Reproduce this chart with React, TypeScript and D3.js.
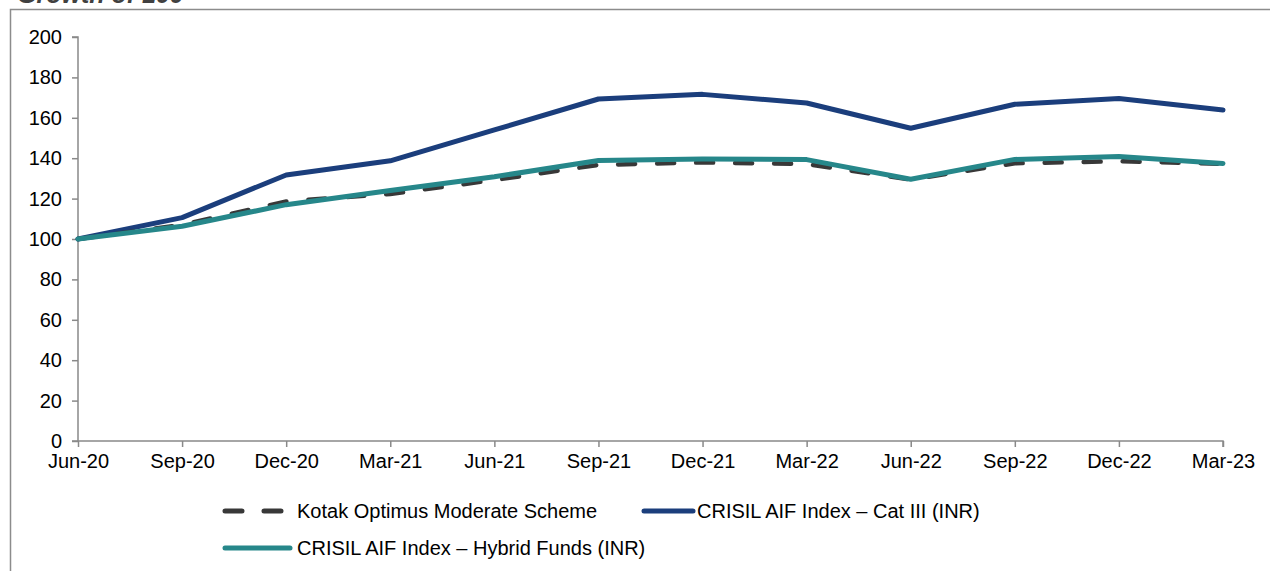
import React, { useEffect, useRef } from 'react';
import * as d3 from 'd3';

const categories = ['Jun-20', 'Sep-20', 'Dec-20', 'Mar-21', 'Jun-21', 'Sep-21', 'Dec-21', 'Mar-22', 'Jun-22', 'Sep-22', 'Dec-22', 'Mar-23'];
const kotakValues = [100, 107, 118.6, 122.3, 129.2, 136.7, 137.9, 137.1, 129.4, 137.5, 138.5, 137.2];
const catIIIValues = [100, 110.6, 131.7, 138.7, 154, 169.3, 171.6, 167.3, 154.8, 166.7, 169.5, 163.9];
const hybridValues = [100, 106.3, 117, 124, 130.8, 138.9, 139.6, 139.3, 129.6, 139.4, 140.8, 137.4];
const yTicks = [0, 20, 40, 60, 80, 100, 120, 140, 160, 180, 200];

const FONT = '"Liberation Sans", Arial, sans-serif';

export default function App() {
  const svgRef = useRef<SVGSVGElement>(null);

  useEffect(() => {
    if (!svgRef.current) return;
    const svg = d3.select(svgRef.current);
    svg.selectAll('*').remove();

    const W = 1270;
    const H = 571;
    const left = 78;
    const right = 1223;
    const top = 37;
    const bottom = 441;
    const axisColor = '#898989';

    // frame + title (cut off by the top edge, as in the source)
    svg.append('path')
      .attr('d', `M10.5,${H} V9.5 H${W}`)
      .attr('fill', 'none')
      .attr('stroke', '#8c8c8c')
      .attr('stroke-width', 1.5);

    svg.append('text')
      .attr('x', 17)
      .attr('y', 3)
      .style('font-family', FONT)
      .style('font-size', '25px')
      .style('font-weight', 'bold')
      .style('font-style', 'italic')
      .style('fill', '#404040')
      .text('Growth of 100');

    const x = d3.scalePoint().domain(categories).range([left, right]);
    const y = d3.scaleLinear().domain([0, 200]).range([bottom, top]);

    // y axis
    const gy = svg.append('g').attr('transform', `translate(${left},0)`)
      .call(d3.axisLeft(y).tickValues(yTicks).tickSize(6).tickPadding(10));
    gy.select('.domain').attr('stroke', axisColor).attr('stroke-width', 1.5)
      .attr('d', `M-6,${top}H0V${bottom}H-6`);
    gy.selectAll('.tick line').attr('stroke', axisColor).attr('stroke-width', 1.5);
    gy.selectAll('.tick text')
      .style('font-family', FONT).style('font-size', '20px').style('fill', '#000');

    // x axis
    const gx = svg.append('g').attr('transform', `translate(0,${bottom})`)
      .call(d3.axisBottom(x).tickSize(6).tickPadding(7));
    gx.select('.domain').attr('stroke', axisColor).attr('stroke-width', 1.5)
      .attr('d', `M${left},0H${right}V6`);
    gx.selectAll('.tick line').attr('stroke', axisColor).attr('stroke-width', 1.5);
    gx.selectAll('.tick text')
      .style('font-family', FONT).style('font-size', '20px').style('fill', '#000');

    const line = d3.line<number>()
      .x((_, i) => x(categories[i]) || 0)
      .y(d => y(d));

    svg.append('path')
      .datum(catIIIValues)
      .attr('fill', 'none')
      .attr('stroke', '#1b3e7c')
      .attr('stroke-width', 5)
      .attr('stroke-linecap', 'round')
      .attr('stroke-linejoin', 'round')
      .attr('d', line);

    svg.append('path')
      .datum(kotakValues)
      .attr('fill', 'none')
      .attr('stroke', '#383838')
      .attr('stroke-width', 4.5)
      .attr('stroke-dasharray', '17,22')
      .attr('stroke-linecap', 'round')
      .attr('d', line);

    svg.append('path')
      .datum(hybridValues)
      .attr('fill', 'none')
      .attr('stroke', '#26878a')
      .attr('stroke-width', 5)
      .attr('stroke-linecap', 'round')
      .attr('stroke-linejoin', 'round')
      .attr('d', line);

    // legend
    const legend = [
      { label: 'Kotak Optimus Moderate Scheme', color: '#383838', dash: '17,22', x0: 225, x1: 284, tx: 297, ty: 511 },
      { label: 'CRISIL AIF Index \u2013 Cat III (INR)', color: '#1b3e7c', dash: null, x0: 644, x1: 693, tx: 697, ty: 511 },
      { label: 'CRISIL AIF Index \u2013 Hybrid Funds (INR)', color: '#26878a', dash: null, x0: 225, x1: 290, tx: 297, ty: 548 },
    ];
    const lg = svg.append('g');
    legend.forEach(l => {
      lg.append('line')
        .attr('x1', l.x0).attr('x2', l.x1)
        .attr('y1', l.ty).attr('y2', l.ty)
        .attr('stroke', l.color)
        .attr('stroke-width', 5)
        .attr('stroke-linecap', 'round')
        .attr('stroke-dasharray', l.dash);
      lg.append('text')
        .attr('x', l.tx)
        .attr('y', l.ty)
        .attr('dy', '0.35em')
        .style('font-family', FONT)
        .style('font-size', '20px')
        .style('fill', '#000')
        .text(l.label);
    });
  }, []);

  return (
    <svg
      ref={svgRef}
      width={1270}
      height={571}
      style={{ position: 'absolute', left: 0, top: 0, background: '#fff' }}
    />
  );
}
